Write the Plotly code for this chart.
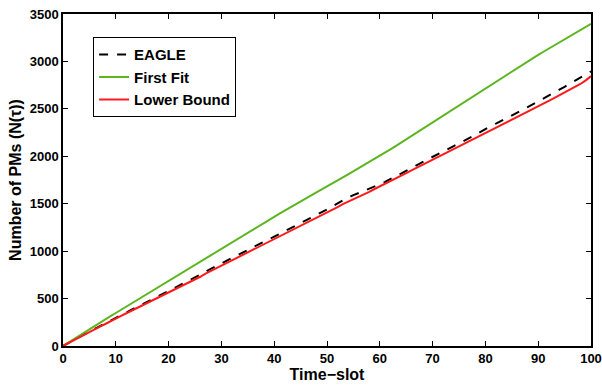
import plotly.graph_objects as go

time_slots = list(range(0, 101))

eagle = [0, 33, 62, 92, 122, 155, 180, 210, 240, 265, 298, 325, 352, 382, 410, 440, 468, 495, 522, 552,
         580, 608, 640, 668, 690, 720, 752, 785, 815, 842, 872, 898, 928, 955, 985, 1012, 1040, 1068, 1098, 1125,
         1152, 1180, 1210, 1238, 1265, 1295, 1325, 1352, 1382, 1410, 1440, 1472, 1505, 1535, 1565, 1590, 1612, 1632,
         1655, 1680, 1705, 1730, 1758, 1790, 1818, 1848, 1878, 1905, 1935, 1965, 1995, 2022, 2048, 2078, 2108, 2135,
         2162, 2192, 2222, 2255, 2290, 2318, 2345, 2372, 2400, 2428, 2458, 2488, 2518, 2550, 2582, 2612, 2642, 2672,
         2702, 2732, 2764, 2796, 2828, 2862, 2895]

first_fit = [0, 36, 72, 108, 142, 178, 212, 248, 282, 315, 348, 382, 415, 448, 482, 515, 550, 585, 620, 652,
             684, 718, 752, 786, 820, 855, 890, 925, 960, 995, 1030, 1062, 1095, 1128, 1162, 1196, 1230, 1264, 1298,
             1330, 1362, 1395, 1428, 1462, 1496, 1528, 1558, 1590, 1620, 1650, 1680, 1712, 1745, 1778, 1810, 1842,
             1874, 1906, 1938, 1970, 2003, 2038, 2073, 2108, 2144, 2180, 2216, 2252, 2288, 2324, 2360, 2395, 2430,
             2465, 2500, 2535, 2570, 2605, 2640, 2677, 2714, 2750, 2786, 2822, 2857, 2892, 2928, 2964, 3000, 3036,
             3070, 3102, 3134, 3166, 3198, 3230, 3262, 3294, 3326, 3360, 3395]

lower_bound = [0, 32, 60, 88, 118, 150, 175, 205, 232, 258, 290, 318, 345, 372, 400, 430, 455, 482, 510, 538,
               562, 590, 620, 650, 672, 700, 730, 762, 790, 818, 848, 872, 902, 930, 958, 985, 1012, 1040, 1068,
               1095, 1122, 1150, 1178, 1205, 1232, 1262, 1290, 1318, 1348, 1375, 1405, 1435, 1465, 1495, 1520, 1548,
               1572, 1598, 1625, 1655, 1682, 1708, 1735, 1765, 1792, 1822, 1852, 1880, 1908, 1935, 1962, 1990, 2018,
               2045, 2072, 2100, 2128, 2156, 2185, 2214, 2243, 2272, 2300, 2328, 2356, 2384, 2412, 2440, 2468, 2496,
               2525, 2554, 2583, 2612, 2641, 2670, 2700, 2730, 2762, 2800, 2845]

x_ticks = [0, 10, 20, 30, 40, 50, 60, 70, 80, 90, 100]
y_ticks = [0, 500, 1000, 1500, 2000, 2500, 3000, 3500]

FONT = "Liberation Sans"

fig = go.Figure()
fig.add_trace(go.Scatter(x=time_slots, y=eagle, mode="lines", name="EAGLE",
                         line=dict(color="black", width=2, dash="dash")))
fig.add_trace(go.Scatter(x=time_slots, y=first_fit, mode="lines", name="First Fit",
                         line=dict(color="#5cb520", width=2)))
fig.add_trace(go.Scatter(x=time_slots, y=lower_bound, mode="lines", name="Lower Bound",
                         line=dict(color="#ff1a1a", width=2)))

axis_common = dict(showline=True, linecolor="black", linewidth=1.5, mirror="ticks",
                   ticks="inside", ticklen=5, tickwidth=1, tickcolor="black",
                   showgrid=False, zeroline=False, automargin=False,
                   tickfont=dict(family=FONT, size=13, color="black", weight="bold"))

fig.update_layout(
    width=602, height=385,
    margin=dict(l=63, r=11, t=14, b=39),
    paper_bgcolor="white", plot_bgcolor="white",
    showlegend=True,
    legend=dict(x=0.057, y=0.93, xanchor="left", yanchor="top",
                bordercolor="black", borderwidth=1, bgcolor="white",
                font=dict(family=FONT, size=15, color="black", weight="bold"),
                tracegroupgap=0, itemwidth=30),
    xaxis=dict(range=[0, 100], tickvals=x_ticks,
               title=dict(text="Time\u2212slot", standoff=0,
                          font=dict(family=FONT, size=16, color="black", weight="bold")),
               **axis_common),
    yaxis=dict(range=[0, 3500], tickvals=y_ticks,
               title=dict(text="Number of PMs (N(\u03c4))", standoff=4,
                          font=dict(family=FONT, size=16, color="black", weight="bold")),
               **axis_common),
)

fig.write_html("out.html")
